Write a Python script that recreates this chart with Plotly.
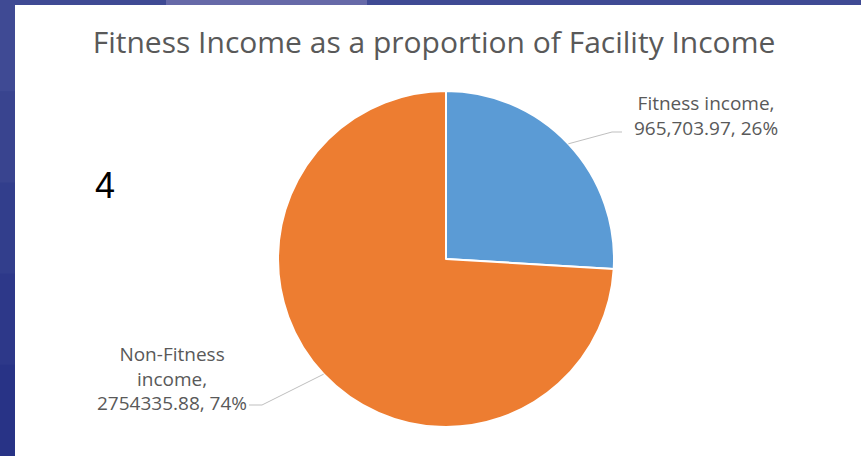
import math
import plotly.graph_objects as go

# ---- data ----
categories = ["Fitness income", "Non-Fitness income"]
values = [965703.97, 2754335.88]
value_texts = ["965,703.97", "2754335.88"]
colors = ["#5B9BD5", "#ED7D31"]
title_text = "Fitness Income as a proportion of Facility Income"
slide_number = "4"

W, H = 861, 456
CX, CY, R = 446, 259, 168  # pie centre / radius in pixels


def px(x, y):
    return x / W, 1 - y / H


total = sum(values)
fracs = [v / total for v in values]

fig = go.Figure()
fig.add_trace(go.Pie(
    labels=categories,
    values=values,
    sort=False,
    direction="clockwise",
    rotation=0,
    marker=dict(colors=colors, line=dict(color="white", width=2)),
    textinfo="none",
    hoverinfo="label+value+percent",
    showlegend=False,
    domain=dict(x=[(CX - R) / W, (CX + R) / W], y=[1 - (CY + R) / H, 1 - (CY - R) / H]),
))

# labels & leader lines
label_cfg = [
    dict(text=f"{categories[0]},<br>{value_texts[0]}, {round(fracs[0]*100)}%",
         tx=706, ty=115, knee=(612, 132), end=(622, 132)),
    dict(text="Non-Fitness<br>income,<br>" + f"{value_texts[1]}, {round(fracs[1]*100)}%",
         tx=172, ty=378, knee=(262, 405), end=(249, 405)),
]
shapes = []
annotations = []
cum = 0.0
for f, cfg in zip(fracs, label_cfg):
    mid = (cum + f / 2) * 2 * math.pi
    cum += f
    ex = CX + R * math.sin(mid)
    ey = CY - R * math.cos(mid)
    p0 = px(ex, ey)
    p1 = px(*cfg["knee"])
    p2 = px(*cfg["end"])
    shapes.append(dict(type="path", xref="paper", yref="paper",
                       path=f"M {p0[0]} {p0[1]} L {p1[0]} {p1[1]} L {p2[0]} {p2[1]}",
                       line=dict(color="#BFBFBF", width=1)))
    ax, ay = px(cfg["tx"], cfg["ty"])
    annotations.append(dict(text=cfg["text"], x=ax, y=ay, xref="paper", yref="paper",
                            showarrow=False, xanchor="center", yanchor="middle",
                            font=dict(family="Open Sans", size=19, color="#595959")))

annotations.append(dict(text=slide_number, x=105 / W, y=1 - 185 / H, xref="paper", yref="paper",
                        showarrow=False, xanchor="center", yanchor="middle",
                        font=dict(family="Liberation Sans", size=36, color="black")))

# slide frame (left and top bars)
band_colors = ["#3F4A94", "#39448F", "#323E8C", "#2D3889", "#283386"]
n = len(band_colors)
for i, c in enumerate(band_colors):
    shapes.append(dict(type="rect", xref="paper", yref="paper", layer="above",
                       x0=0, x1=15 / W, y0=1 - (i + 1) / n - 0.01, y1=1 - i / n,
                       fillcolor=c, line=dict(width=0)))
shapes.append(dict(type="rect", xref="paper", yref="paper", layer="above",
                   x0=0, x1=1, y0=1 - 5 / H, y1=1, fillcolor="#3F4A94", line=dict(width=0)))
shapes.append(dict(type="rect", xref="paper", yref="paper", layer="above",
                   x0=166 / W, x1=367 / W, y0=1 - 5 / H, y1=1, fillcolor="#6669A8", line=dict(width=0)))

fig.update_layout(
    width=W, height=H,
    margin=dict(l=0, r=0, t=0, b=0),
    paper_bgcolor="white",
    plot_bgcolor="white",
    title=dict(text=title_text, x=434 / W, xanchor="center", y=1 - 42 / H, yanchor="middle",
               yref="container", font=dict(family="Open Sans", size=30, color="#595959")),
    shapes=shapes,
    annotations=annotations,
)

fig.write_html("out.html", config={"displayModeBar": False},
               post_script="document.body.style.margin='0';")
